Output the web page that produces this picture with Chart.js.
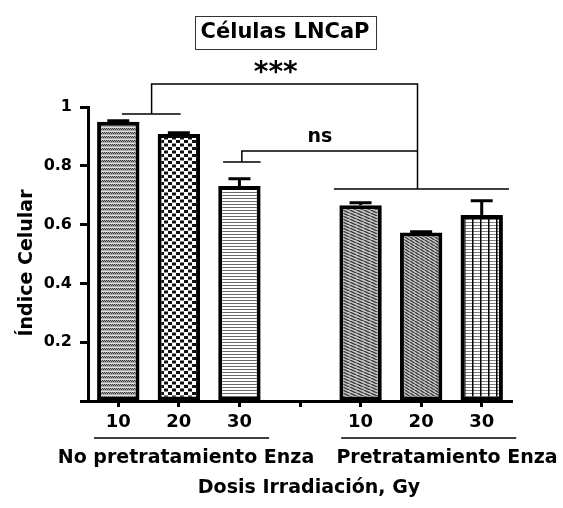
<!DOCTYPE html>
<html>
<head>
<meta charset="utf-8">
<script src="https://cdn.jsdelivr.net/npm/chart.js@4"></script>
<style>
  html, body { margin: 0; padding: 0; background: #fff; }
  #grafico { display: block; }
</style>
</head>
<body>
<canvas id="grafico" width="563" height="508"></canvas>
<script>
// datos
const categorias = ["10", "20", "30", "", "10", "20", "30"];
const indiceCelular = [0.95, 0.908, 0.731, null, 0.666, 0.573, 0.633];
const errorEstandar = [0.003, 0.004, 0.025, null, 0.008, 0.003, 0.048];
const ticksY = [0.2, 0.4, 0.6, 0.8, 1];
const grupos = ["No pretratamiento Enza", "Pretratamiento Enza"];

const FUENTE = '"DejaVu Sans", "Liberation Sans", Arial, sans-serif';

// tramas de relleno de las barras
function trama(w, h, dibujar) {
  const c = document.createElement("canvas");
  c.width = w;
  c.height = h;
  const g = c.getContext("2d");
  dibujar(g, w, h);
  return g.createPattern(c, "repeat");
}

function diagonal(w, h, fondo, linea) {
  return trama(w, h, (g) => {
    g.fillStyle = fondo;
    g.fillRect(0, 0, w, h);
    g.strokeStyle = linea;
    g.lineWidth = 1.2;
    for (let k = -1; k <= 1; k++) {
      g.beginPath();
      g.moveTo(0, k * h);
      g.lineTo(w, (k + 1) * h);
      g.stroke();
    }
  });
}

const tramas = [
  // gris fino
  trama(4, 4, (g) => {
    g.fillStyle = "#a8a8a8";
    g.fillRect(0, 0, 4, 4);
    g.fillStyle = "#3a3a3a";
    g.fillRect(0, 0, 1, 1);
    g.fillRect(2, 0, 1, 1);
    g.fillRect(1, 1, 1, 1);
    g.fillRect(3, 1, 1, 1);
    g.fillStyle = "#e0e0e0";
    g.fillRect(0, 3, 4, 1);
  }),
  // ajedrez
  trama(8, 7, (g) => {
    g.fillStyle = "#fff";
    g.fillRect(0, 0, 8, 7);
    g.fillStyle = "#111";
    g.fillRect(0, 0, 4, 3);
    g.fillRect(4, 3.5, 4, 3);
  }),
  // horizontales
  trama(4, 3, (g) => {
    g.fillStyle = "#fff";
    g.fillRect(0, 0, 4, 3);
    g.fillStyle = "#6a6a6a";
    g.fillRect(0, 0, 4, 1);
  }),
  null,
  diagonal(7, 3.5, "#c4c4c4", "#333"),
  diagonal(5, 3.5, "#c4c4c4", "#333"),
  // cuadricula
  trama(8, 3, (g) => {
    g.fillStyle = "#fff";
    g.fillRect(0, 0, 8, 3);
    g.fillStyle = "#808080";
    g.fillRect(0, 0, 8, 1);
    g.fillStyle = "#000";
    g.fillRect(0, 0, 1.5, 3);
  }),
];

// barras de error (solo hacia arriba)
const barrasError = {
  id: "barrasError",
  afterDatasetsDraw(chart) {
    const ctx = chart.ctx;
    const y = chart.scales.y;
    const meta = chart.getDatasetMeta(0);
    ctx.save();
    ctx.strokeStyle = "#000";
    ctx.lineWidth = 3;
    indiceCelular.forEach((v, i) => {
      if (v === null) return;
      const x = meta.data[i].x;
      const y0 = y.getPixelForValue(v);
      const y1 = y.getPixelForValue(v + errorEstandar[i]);
      ctx.beginPath();
      ctx.moveTo(x, y0);
      ctx.lineTo(x, y1);
      ctx.moveTo(x - 11, y1);
      ctx.lineTo(x + 11, y1);
      ctx.stroke();
    });
    ctx.restore();
  },
};

// textos, corchetes de significancia y etiquetas de grupo
const anotaciones = {
  id: "anotaciones",
  afterDraw(chart) {
    const ctx = chart.ctx;
    const xs = chart.scales.x;
    const ys = chart.scales.y;
    const px = (i) => xs.getPixelForValue(i);
    const py = (v) => ys.getPixelForValue(v);
    const area = chart.chartArea;

    ctx.save();
    ctx.strokeStyle = "#000";
    ctx.fillStyle = "#000";
    ctx.lineWidth = 1.5;

    const linea = (pts) => {
      ctx.beginPath();
      ctx.moveTo(pts[0][0], pts[0][1]);
      for (let k = 1; k < pts.length; k++) ctx.lineTo(pts[k][0], pts[k][1]);
      ctx.stroke();
    };

    // corchete *** (10-20 sin Enza contra grupo Enza)
    linea([[px(0.06), py(0.976)], [px(1.03), py(0.976)]]);
    linea([[px(0.55), py(0.976)], [px(0.55), py(1.078)], [px(4.94), py(1.078)], [px(4.94), py(0.721)]]);
    linea([[px(3.56), py(0.721)], [px(6.45), py(0.721)]]);
    // corchete ns (30 sin Enza contra grupo Enza)
    linea([[px(1.73), py(0.813)], [px(2.35), py(0.813)]]);
    linea([[px(2.04), py(0.813)], [px(2.04), py(0.85)], [px(4.94), py(0.85)]]);

    ctx.textAlign = "center";
    ctx.textBaseline = "middle";
    ctx.font = "bold 28px " + FUENTE;
    ctx.fillText("***", px(2.6), py(1.126) + 4);
    ctx.font = "bold 19px " + FUENTE;
    ctx.fillText("ns", px(3.33), py(0.898));

    // titulo en recuadro
    const cx = 285;
    ctx.font = "bold 21px " + FUENTE;
    const tw = ctx.measureText("Células LNCaP").width;
    ctx.fillText("Células LNCaP", cx, 33);
    ctx.lineWidth = 1;
    ctx.strokeStyle = "#333";
    ctx.strokeRect(Math.round(cx - tw / 2 - 6) + 0.5, 16.5, Math.round(tw + 12), 33);

    // etiquetas de grupo
    ctx.strokeStyle = "#000";
    ctx.lineWidth = 1.5;
    const yl = area.bottom + 37;
    linea([[px(-0.4), yl], [px(2.49), yl]]);
    linea([[px(3.68), yl], [px(6.57), yl]]);
    ctx.font = "bold 19px " + FUENTE;
    ctx.fillText(grupos[0], 186, yl + 20);
    ctx.fillText(grupos[1], 447, yl + 20);

    ctx.font = "bold 19px " + FUENTE;
    ctx.fillText("Dosis Irradiación, Gy", 309, yl + 50);

    // titulo eje Y
    ctx.translate(27, 263);
    ctx.rotate(-Math.PI / 2);
    ctx.fillText("Índice Celular", 0, 0);
    ctx.restore();
  },
};

new Chart(document.getElementById("grafico"), {
  type: "bar",
  data: {
    labels: categorias,
    datasets: [
      {
        data: indiceCelular,
        backgroundColor: tramas,
        borderColor: "#000",
        borderWidth: 4,
        borderSkipped: false,
        categoryPercentage: 1,
        barPercentage: 0.7,
      },
    ],
  },
  options: {
    responsive: false,
    animation: false,
    devicePixelRatio: 1,
    layout: { padding: { top: 107, right: 51, left: 0, bottom: 0 } },
    plugins: {
      legend: { display: false },
      tooltip: { enabled: false },
    },
    scales: {
      x: {
        afterFit: (s) => { s.height = 107; },
        border: { display: true, color: "#000", width: 3 },
        grid: {
          offset: false,
          drawOnChartArea: false,
          drawTicks: true,
          tickLength: 6,
          tickWidth: 3,
          tickColor: "#000",
        },
        ticks: {
          color: "#000",
          padding: 5,
          font: { family: FUENTE, size: 18, weight: "bold" },
        },
      },
      y: {
        min: 0,
        max: 1,
        afterFit: (s) => { s.width = 88; },
        afterBuildTicks: (s) => {
          s.ticks = [0].concat(ticksY).map((v) => ({ value: v }));
        },
        border: { display: true, color: "#000", width: 3 },
        grid: {
          drawOnChartArea: false,
          tickLength: 8,
          tickWidth: 3,
          tickColor: "#000",
        },
        ticks: {
          color: "#000",
          padding: 8,
          font: { family: FUENTE, size: 16, weight: "bold" },
          callback: (v) => (v === 0 ? "" : String(v)),
        },
      },
    },
  },
  plugins: [barrasError, anotaciones],
});
</script>
</body>
</html>
